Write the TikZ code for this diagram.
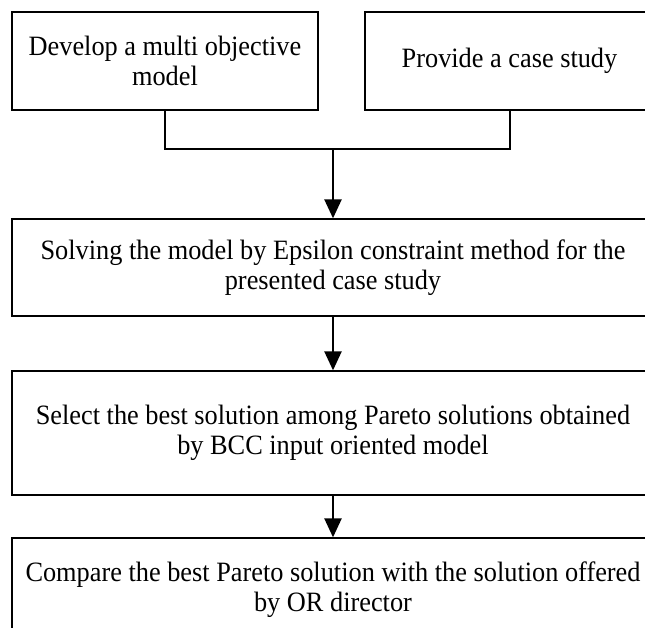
\documentclass[tikz,border=0pt]{standalone}
\usepackage{fontspec}
\setmainfont{Liberation Serif}[FakeStretch=0.94]
\usetikzlibrary{arrows.meta}
\tikzset{
  stepbox/.style={draw=black, line width=1.3pt, rectangle, inner sep=0pt, align=center,
    font=\fontsize{28}{30}\selectfont},
  link/.style={line width=2.4pt},
  arrowlink/.style={line width=2.4pt, -{Triangle[width=17pt,length=19pt]}},
}
\begin{document}
\begin{tikzpicture}[x=1pt,y=-1pt]
\clip (0,0) rectangle (645,628);
\node[stepbox, minimum width=306pt, minimum height=98pt] (dev) at (165,61) {Develop a multi objective\\model};
\node[stepbox, minimum width=289pt, minimum height=98pt] (case) at (509.5,61) {Provide a case study};
\node[stepbox, minimum width=642pt, minimum height=97pt] (solve) at (333,267.5) {Solving the model by Epsilon constraint method for the\\presented case study};
\node[stepbox, minimum width=642pt, minimum height=124pt] (select) at (333,433) {Select the best solution among Pareto solutions obtained\\by BCC input oriented model};
\node[stepbox, minimum width=642pt, minimum height=104pt] (compare) at (333,590) {Compare the best Pareto solution with the solution offered\\by OR director};
\coordinate (jl) at (165,149);
\coordinate (jr) at (510,149);
\coordinate (jm) at (333,149);
\draw[link] (dev.south) -- (jl) -- (jr) -- (case.south -| jr);
\draw[arrowlink] (jm) -- (solve.north);
\draw[arrowlink] (solve.south) -- (select.north);
\draw[arrowlink] (select.south) -- (compare.north);
\end{tikzpicture}
\end{document}
